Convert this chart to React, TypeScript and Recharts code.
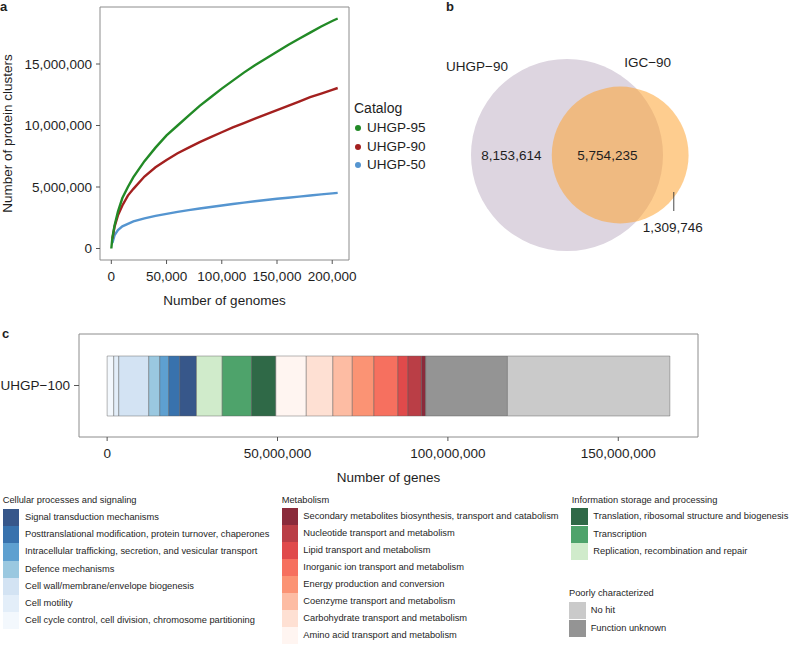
import React from 'react';
import {
  LineChart, Line, XAxis, YAxis, ReferenceArea,
  ScatterChart, Scatter, BarChart, Bar,
} from 'recharts';

const FONT = '"Liberation Sans", Arial, Helvetica, sans-serif';
const INK = '#1e1e1e';

// ---------- Panel a: rarefaction curves (values in millions) ----------
const genomes = [0, 1000, 3000, 6000, 10000, 15000, 20000, 30000, 40000, 50000, 60000, 70000, 80000, 90000, 100000, 110000, 120000, 130000, 140000, 150000, 160000, 170000, 180000, 190000, 200000, 204938];
const uhgp95 = [0, 0.9, 1.9, 3.0, 4.1, 5.0, 5.8, 7.1, 8.2, 9.2, 10.0, 10.8, 11.6, 12.3, 13.0, 13.65, 14.3, 14.9, 15.45, 16.0, 16.55, 17.05, 17.55, 18.05, 18.5, 18.7];
const uhgp90 = [null, 0.8, 1.8, 2.7, 3.5, 4.3, 4.85, 5.85, 6.6, 7.2, 7.75, 8.2, 8.65, 9.05, 9.45, 9.85, 10.2, 10.55, 10.9, 11.25, 11.6, 11.95, 12.3, 12.6, 12.9, 13.05];
const uhgp50 = [null, 0.45, 1.1, 1.5, 1.8, 2.0, 2.2, 2.45, 2.65, 2.82, 2.98, 3.12, 3.25, 3.37, 3.5, 3.62, 3.73, 3.84, 3.94, 4.04, 4.13, 4.22, 4.31, 4.4, 4.48, 4.52];
const catalogNames = ['UHGP-95', 'UHGP-90', 'UHGP-50'];
const catalogColors = ['#228a26', '#a3201f', '#5595d0'];
const genomeTicks = [0, 50000, 100000, 150000, 200000];
const clusterTicks = [0, 5, 10, 15];

// ---------- Panel b: Venn counts ----------
const vennNames = ['UHGP\u221290', 'IGC\u221290'];
const onlyUHGP = 8153614;
const shared = 5754235;
const onlyIGC = 1309746;

// ---------- Panel c: COG categories (millions of genes), left to right ----------
const cogNames = [
  'Cell cycle control, cell division, chromosome partitioning',
  'Cell motility',
  'Cell wall/membrane/envelope biogenesis',
  'Defence mechanisms',
  'Intracellular trafficking, secretion, and vesicular transport',
  'Posttranslational modification, protein turnover, chaperones',
  'Signal transduction mechanisms',
  'Replication, recombination and repair',
  'Transcription',
  'Translation, ribosomal structure and biogenesis',
  'Amino acid transport and metabolism',
  'Carbohydrate transport and metabolism',
  'Coenzyme transport and metabolism',
  'Energy production and conversion',
  'Inorganic ion transport and metabolism',
  'Lipid transport and metabolism',
  'Nucleotide transport and metabolism',
  'Secondary metabolites biosynthesis, transport and catabolism',
  'Function unknown',
  'No hit',
];
const cogGenes = [1.94, 1.47, 8.81, 3.23, 2.64, 3.23, 4.90, 7.55, 8.60, 7.14, 8.93, 7.81, 5.70, 6.34, 7.05, 2.94, 3.94, 1.26, 23.99, 47.67];
const cogColors = [
  '#f3f8fd', '#e3eef9', '#d3e3f3', '#9ac8e0', '#5ea0d0', '#3872ad', '#37578a',
  '#d0ebcb', '#4ea36b', '#2f6947',
  '#fff5f1', '#fee0d3', '#fdbca3', '#fb9374', '#f6705f', '#e04a4b', '#ba3e46', '#8a2b3b',
  '#949494', '#cacaca',
];
const geneTicks = [0, 50, 100, 150];
const barLabel = 'UHGP\u2212100';
const groupTitles = ['Cellular processes and signaling', 'Metabolism', 'Information storage and processing', 'Poorly characterized'];
const groupMembers = [
  [6, 5, 4, 3, 2, 1, 0],
  [17, 16, 15, 14, 13, 12, 11, 10],
  [9, 8, 7],
  [19, 18],
];

// ---------- helpers ----------
const fmt = (v: number) => Math.round(v).toLocaleString('en-US');
const expand = (max: number): [number, number] => [-0.05 * max, 1.05 * max];

const curveRows = genomes.map((g, i) => ({ x: g, s0: uhgp95[i], s1: uhgp90[i], s2: uhgp50[i] }));
const xDomA = expand(Math.max(...genomes));
const yDomA = expand(Math.max(...uhgp95));

function lensArea(d: number, r1: number, r2: number) {
  if (d >= r1 + r2) return 0;
  if (d <= Math.abs(r1 - r2)) return Math.PI * Math.min(r1, r2) ** 2;
  const a = r1 * r1 * Math.acos((d * d + r1 * r1 - r2 * r2) / (2 * d * r1));
  const b = r2 * r2 * Math.acos((d * d + r2 * r2 - r1 * r1) / (2 * d * r2));
  const c = 0.5 * Math.sqrt((-d + r1 + r2) * (d + r1 - r2) * (d - r1 + r2) * (d + r1 + r2));
  return a + b - c;
}
const totalA = onlyUHGP + shared;
const totalB = shared + onlyIGC;
const rA = Math.sqrt(totalA / Math.PI);
const rB = Math.sqrt(totalB / Math.PI);
let lo = Math.abs(rA - rB), hi = rA + rB;
for (let i = 0; i < 80; i++) {
  const mid = (lo + hi) / 2;
  if (lensArea(mid, rA, rB) > shared) lo = mid; else hi = mid;
}
const dAB = (lo + hi) / 2;

// Venn layout (pixels per unit so that the big circle has a 96px radius)
const VW = 390, VH = 300, VCX = 167, VCY = 155;
const sPx = 96 / rA;
const xDomB: [number, number] = [-VCX / sPx, (VW - VCX) / sPx];
const yDomB: [number, number] = [-(VH - VCY) / sPx, VCY / sPx];
const vennCircles = [
  { x: 0, y: 0, total: totalA, fill: '#ddd5e0', op: 1 },
  { x: dAB, y: 0, total: totalB, fill: '#fda433', op: 0.55 },
];
const vennLabels = [
  { x: (-rA + (dAB - rB)) / 2, y: 0, text: fmt(onlyUHGP), lead: false },
  { x: ((dAB - rB) + rA) / 2, y: 0, text: fmt(shared), lead: false },
  { x: (rA + dAB + rB) / 2 - 3 / sPx, y: -72 / sPx, text: fmt(onlyIGC), lead: true },
  { x: -90 / sPx, y: 89 / sPx, text: vennNames[0], lead: false },
  { x: dAB + 27.5 / sPx, y: 93 / sPx, text: vennNames[1], lead: false },
];

const CircleShape = (p: any) => (
  <circle cx={p.cx} cy={p.cy} r={Math.sqrt(p.payload.total / Math.PI) * sPx} fill={p.payload.fill} fillOpacity={p.payload.op} />
);
const LabelShape = (p: any) => (
  <g>
    {p.payload.lead && (
      <line x1={p.cx + 1} x2={p.cx + 1} y1={p.cy - 35} y2={p.cy - 16} stroke="#333" strokeWidth={0.9} />
    )}
    <text x={p.cx} y={p.cy} textAnchor="middle" dominantBaseline="central" fontSize={13.5} fontFamily={FONT} fill={INK}>
      {p.payload.text}
    </text>
  </g>
);

// Panel c
const barRow: Record<string, any> = { name: barLabel };
cogGenes.forEach((v, i) => { barRow['c' + i] = v; });
const xDomC = expand(cogGenes.reduce((a, b) => a + b, 0));

const tickStyle = { fill: INK, fontSize: 13.5, fontFamily: FONT };

const legendLayout = [
  { titleX: 2.7, titleY: 500, keyX: 2.7, textX: 25, top: 509, rowH: 17.2 },
  { titleX: 281.7, titleY: 500, keyX: 281.7, textX: 303.3, top: 508.3, rowH: 17 },
  { titleX: 571.7, titleY: 500, keyX: 571, textX: 593.3, top: 508.3, rowH: 17.2 },
  { titleX: 569, titleY: 592.7, keyX: 569, textX: 590.7, top: 602.3, rowH: 17.2 },
];

export default function App() {
  const abs = (l: number, t: number): React.CSSProperties => ({ position: 'absolute', left: l, top: t });
  return (
    <div style={{ position: 'absolute', left: 0, top: 0, width: 790, height: 645, overflow: 'hidden', background: '#fff', fontFamily: FONT, color: INK }}>
      {/* panel letters */}
      <div style={{ ...abs(0, 0), fontWeight: 'bold', fontSize: 13, lineHeight: '14px' }}>a</div>
      <div style={{ ...abs(446, 0), fontWeight: 'bold', fontSize: 13, lineHeight: '14px' }}>b</div>
      <div style={{ ...abs(2, 327), fontWeight: 'bold', fontSize: 13, lineHeight: '14px' }}>c</div>

      {/* Panel a */}
      <div style={abs(0, 0)}>
        <LineChart width={400} height={310} data={curveRows} margin={{ top: 7, right: 51, bottom: 0, left: 0 }}>
          <XAxis
            dataKey="x" type="number" domain={xDomA} allowDataOverflow ticks={genomeTicks}
            tickFormatter={fmt} axisLine={false} tickLine={{ stroke: '#555' }} tickSize={4} tickMargin={7}
            height={50} tick={tickStyle}
            label={{ value: 'Number of genomes', position: 'insideBottom', offset: 5, fill: INK, fontSize: 13.5, fontFamily: FONT }}
          />
          <YAxis
            type="number" domain={yDomA} allowDataOverflow ticks={clusterTicks}
            tickFormatter={(v: number) => fmt(v * 1e6)} axisLine={false} tickLine={{ stroke: '#555' }}
            tickSize={4} tickMargin={4} width={100} tick={tickStyle}
            label={{ value: 'Number of protein clusters', angle: -90, position: 'insideLeft', offset: 7.5, fill: INK, fontSize: 13.5, fontFamily: FONT, style: { textAnchor: 'middle' } }}
          />
          <ReferenceArea x1={xDomA[0]} x2={xDomA[1]} y1={yDomA[0]} y2={yDomA[1]} fill="none" stroke="#8c8c8c" strokeWidth={1} ifOverflow="visible" />
          <Line dataKey="s2" stroke={catalogColors[2]} strokeWidth={2.4} dot={false} isAnimationActive={false} />
          <Line dataKey="s1" stroke={catalogColors[1]} strokeWidth={2.4} dot={false} isAnimationActive={false} />
          <Line dataKey="s0" stroke={catalogColors[0]} strokeWidth={2.4} dot={false} isAnimationActive={false} />
        </LineChart>
      </div>
      {/* Panel a legend */}
      <div style={{ ...abs(354, 100), fontSize: 14, lineHeight: '16px' }}>Catalog</div>
      {catalogNames.map((n, i) => (
        <React.Fragment key={n}>
          <div style={{ ...abs(355, 125 + i * 18.7), width: 6, height: 6, borderRadius: 3, background: catalogColors[i] }} />
          <div style={{ ...abs(367, 120 + i * 18.7), fontSize: 13.5, lineHeight: '16px' }}>{n}</div>
        </React.Fragment>
      ))}

      {/* Panel b */}
      <div style={abs(400, 0)}>
        <ScatterChart width={VW} height={VH} margin={{ top: 0, right: 0, bottom: 0, left: 0 }}>
          <XAxis dataKey="x" type="number" domain={xDomB} allowDataOverflow hide />
          <YAxis dataKey="y" type="number" domain={yDomB} allowDataOverflow hide />
          <Scatter data={vennCircles} shape={CircleShape} isAnimationActive={false} />
          <Scatter data={vennLabels} shape={LabelShape} isAnimationActive={false} />
        </ScatterChart>
      </div>

      {/* Panel c */}
      <div style={abs(0, 300)}>
        <BarChart layout="vertical" width={700} height={200} data={[barRow]} margin={{ top: 34, right: 2, bottom: 0, left: 0 }} barCategoryGap={0}>
          <XAxis
            type="number" domain={xDomC} allowDataOverflow ticks={geneTicks}
            tickFormatter={(v: number) => fmt(v * 1e6)} axisLine={false} tickLine={{ stroke: '#555' }}
            tickSize={4} tickMargin={7} height={63} tick={tickStyle}
            label={{ value: 'Number of genes', position: 'insideBottom', offset: 18.5, fill: INK, fontSize: 13.5, fontFamily: FONT }}
          />
          <YAxis type="category" dataKey="name" width={79} axisLine={false} tickLine={{ stroke: '#555' }} tickSize={5} tickMargin={4} tick={tickStyle} />
          <ReferenceArea x1={xDomC[0]} x2={xDomC[1]} fill="none" stroke="#8c8c8c" strokeWidth={1} ifOverflow="visible" />
          {cogNames.map((n, i) => (
            <Bar key={n} dataKey={'c' + i} name={n} stackId="s" fill={cogColors[i]} stroke="#5a5a5a" strokeOpacity={0.55} strokeWidth={0.8} barSize={60} isAnimationActive={false} />
          ))}
        </BarChart>
      </div>

      {/* Panel c legend */}
      {groupTitles.map((t, g) => {
        const L = legendLayout[g];
        return (
          <React.Fragment key={t}>
            <div style={{ ...abs(L.titleX, L.titleY - 6), fontSize: 9.3, lineHeight: '12px', whiteSpace: 'nowrap' }}>{t}</div>
            {groupMembers[g].map((idx, r) => (
              <React.Fragment key={idx}>
                <div style={{ ...abs(L.keyX, L.top + r * L.rowH), width: 16.7, height: L.rowH, background: cogColors[idx] }} />
                <div style={{ ...abs(L.textX, L.top + r * L.rowH), fontSize: 9.3, lineHeight: L.rowH + 'px', whiteSpace: 'nowrap' }}>{cogNames[idx]}</div>
              </React.Fragment>
            ))}
          </React.Fragment>
        );
      })}
    </div>
  );
}
